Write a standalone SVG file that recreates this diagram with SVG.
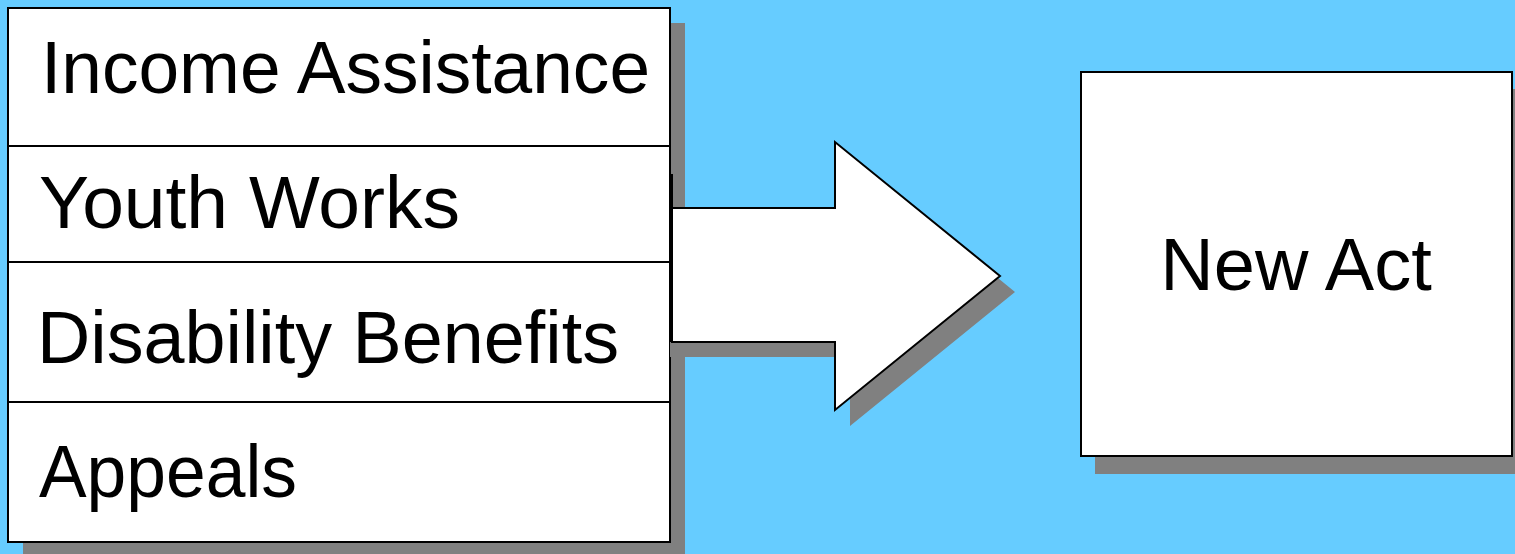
<svg xmlns="http://www.w3.org/2000/svg" width="1515" height="554" viewBox="0 0 1515 554">
<style>
.box{fill:#fff;stroke:#000;stroke-width:2}
.shadow{fill:#808080}
.div{stroke:#000;stroke-width:2}
.t{font-family:"Liberation Sans",Arial,sans-serif;font-size:74px;fill:#000}
</style>
<rect width="1515" height="554" fill="#66CCFF"/>
<g id="list">
<rect class="shadow" x="23" y="23" width="662" height="534"/>
<rect class="box" x="8" y="8" width="662" height="534"/>
<line class="div" x1="8" y1="146" x2="670" y2="146"/>
<line class="div" x1="8" y1="262" x2="670" y2="262"/>
<line class="div" x1="8" y1="402" x2="670" y2="402"/>
<text class="t" x="41" y="93" textLength="609" lengthAdjust="spacingAndGlyphs">Income Assistance</text>
<text class="t" x="39" y="228" textLength="421" lengthAdjust="spacingAndGlyphs">Youth Works</text>
<text class="t" x="37" y="363" textLength="582" lengthAdjust="spacingAndGlyphs">Disability Benefits</text>
<text class="t" x="39" y="497" textLength="258" lengthAdjust="spacingAndGlyphs">Appeals</text>
</g>
<g id="connectors">
<polygon class="shadow" points="687,223 850,223 850,157 1015,292 850,426 850,357 687,357"/>
<rect class="shadow" x="670" y="342" width="17" height="15"/>
<polygon class="box" points="672,208 835,208 835,142 1000,276 835,410 835,342 672,342"/>
<line x1="672" y1="174" x2="672" y2="208" stroke="#000" stroke-width="2"/>
</g>
<g id="newact">
<rect class="shadow" x="1095" y="89" width="440" height="385"/>
<rect class="box" x="1081" y="72" width="431" height="384"/>
<text class="t" x="1296" y="290" text-anchor="middle">New Act</text>
</g>
</svg>
